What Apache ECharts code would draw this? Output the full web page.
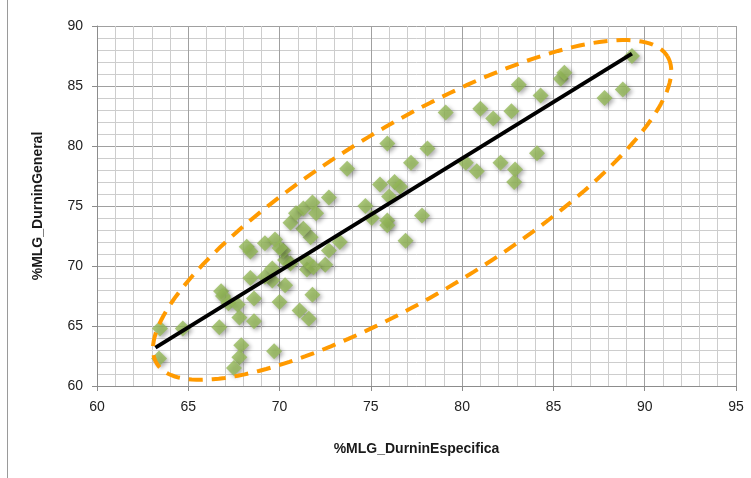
<!DOCTYPE html>
<html>
<head>
<meta charset="utf-8">
<script src="https://cdn.jsdelivr.net/npm/echarts@6/dist/echarts.min.js"></script>
<style>
  html, body { margin: 0; padding: 0; background: #fff; }
  #chart { width: 751px; height: 478px; }
</style>
</head>
<body>
<div id="chart"></div>
<script>
// Body-fat estimates: specific vs. general Durnin equations
const durninEspecifica = [
  63.4, 63.45, 64.7, 66.7, 66.8, 66.9, 67.2, 67.7, 67.8, 68.6,
  68.6, 68.4, 67.9, 67.8, 67.5, 69.7, 70.0, 70.3, 69.6, 69.2,
  69.6, 71.1, 71.6, 71.8, 71.5, 72.5, 70.6, 71.5, 71.85, 70.3,
  70.2, 68.2, 68.4, 69.2, 69.75, 70.0, 72.7, 73.3, 71.7, 71.3,
  70.6, 70.9, 71.3, 71.8, 72.0, 72.7, 73.7, 74.7, 75.05, 75.9,
  75.9, 76.9, 77.8, 75.5, 76.3, 76.6, 76.0, 75.9, 77.2, 78.1,
  79.1, 80.2, 80.8, 81.0, 81.7, 82.1, 82.7, 82.9, 82.85, 83.1,
  84.1, 84.3, 85.4, 85.6, 87.8, 88.8, 89.3
];
const durninGeneral = [
  62.3, 64.8, 64.8, 64.9, 67.9, 67.5, 66.9, 66.8, 65.7, 65.4,
  67.3, 69.0, 63.4, 62.4, 61.5, 62.9, 67.0, 68.4, 68.8, 69.1,
  69.8, 66.3, 65.6, 67.6, 69.7, 70.1, 70.2, 70.4, 69.9, 70.5,
  71.3, 71.6, 71.2, 71.9, 72.2, 71.5, 71.3, 72.0, 72.4, 73.1,
  73.6, 74.4, 74.8, 75.3, 74.4, 75.7, 78.1, 75.0, 74.0, 73.8,
  73.4, 72.1, 74.2, 76.8, 77.0, 76.6, 75.8, 80.2, 78.6, 79.8,
  82.8, 78.6, 77.9, 83.1, 82.3, 78.6, 82.9, 78.05, 77.0, 85.1,
  79.4, 84.2, 85.6, 86.1, 84.0, 84.7, 87.5
];

// Linear trend line endpoints
const trendX = [63.2, 89.3];
const trendY = [63.2, 87.7];

// Dashed envelope ellipse (data units): centre and two conjugate semi-axes
const ellipseCenter = [77.26, 74.67];
const ellipseAxisU = [13.99, 12.79];
const ellipseAxisV = [2.40, -6.07];

// Axis ticks
const xTicks = { min: 60, max: 95, step: 5 };
const yTicks = { min: 60, max: 90, step: 5 };

const scatterData = durninEspecifica.map((x, i) => [x, durninGeneral[i]]);
const trendData = trendX.map((x, i) => [x, trendY[i]]);

const ellipseData = [];
for (let k = 0; k <= 180; k++) {
  const t = (k / 180) * Math.PI * 2;
  const c = Math.cos(t), s = Math.sin(t);
  ellipseData.push([
    ellipseCenter[0] + c * ellipseAxisU[0] + s * ellipseAxisV[0],
    ellipseCenter[1] + c * ellipseAxisU[1] + s * ellipseAxisV[1]
  ]);
}

const FONT = '"Liberation Sans", Arial, sans-serif';
const majorGrid = { show: true, lineStyle: { color: '#a0a0a0', width: 1 } };
const minorGrid = { show: true, lineStyle: { color: '#cdcdcd', width: 1 } };

const chart = echarts.init(document.getElementById('chart'), null, { renderer: 'canvas' });
chart.setOption({
  animation: false,
  backgroundColor: '#ffffff',
  grid: { left: 97, right: 15, top: 26, bottom: 92 },
  xAxis: {
    type: 'value',
    min: xTicks.min, max: xTicks.max, interval: xTicks.step,
    name: '%MLG_DurninEspecifica',
    nameLocation: 'middle',
    nameGap: 56,
    nameTextStyle: { fontFamily: FONT, fontSize: 14, fontWeight: 'bold', color: '#1a1a1a' },
    axisLine: { show: true, lineStyle: { color: '#8c8c8c', width: 1 } },
    axisTick: { show: true, length: 5, lineStyle: { color: '#8c8c8c' } },
    axisLabel: { fontFamily: FONT, fontSize: 14, color: '#222', margin: 14 },
    splitLine: majorGrid,
    minorTick: { show: false, splitNumber: 5 },
    minorSplitLine: minorGrid
  },
  yAxis: {
    type: 'value',
    min: yTicks.min, max: yTicks.max, interval: yTicks.step,
    name: '%MLG_DurninGeneral',
    nameLocation: 'middle',
    nameGap: 52,
    nameRotate: 90,
    nameTextStyle: { fontFamily: FONT, fontSize: 14, fontWeight: 'bold', color: '#1a1a1a' },
    axisLine: { show: true, lineStyle: { color: '#8c8c8c', width: 1 } },
    axisTick: { show: true, length: 5, lineStyle: { color: '#8c8c8c' } },
    axisLabel: { fontFamily: FONT, fontSize: 14, color: '#222', margin: 14 },
    splitLine: majorGrid,
    minorTick: { show: false, splitNumber: 5 },
    minorSplitLine: minorGrid
  },
  graphic: [
    { type: 'line', shape: { x1: 7.5, y1: 0, x2: 7.5, y2: 478 }, style: { stroke: '#9a9a9a', lineWidth: 1 } }
  ],
  series: [
    {
      type: 'scatter',
      data: scatterData,
      symbol: 'diamond',
      symbolSize: 16,
      itemStyle: {
        color: '#93b857',
        shadowBlur: 4,
        shadowOffsetX: 2,
        shadowOffsetY: 2,
        shadowColor: 'rgba(0,0,0,0.4)'
      },
      z: 2
    },
    {
      type: 'line',
      data: trendData,
      showSymbol: false,
      lineStyle: { color: '#000', width: 4 },
      z: 3
    },
    {
      type: 'line',
      data: ellipseData,
      showSymbol: false,
      smooth: false,
      lineStyle: { color: '#ff9a00', width: 4, type: [14, 9] },
      z: 4
    }
  ]
});
</script>
</body>
</html>
